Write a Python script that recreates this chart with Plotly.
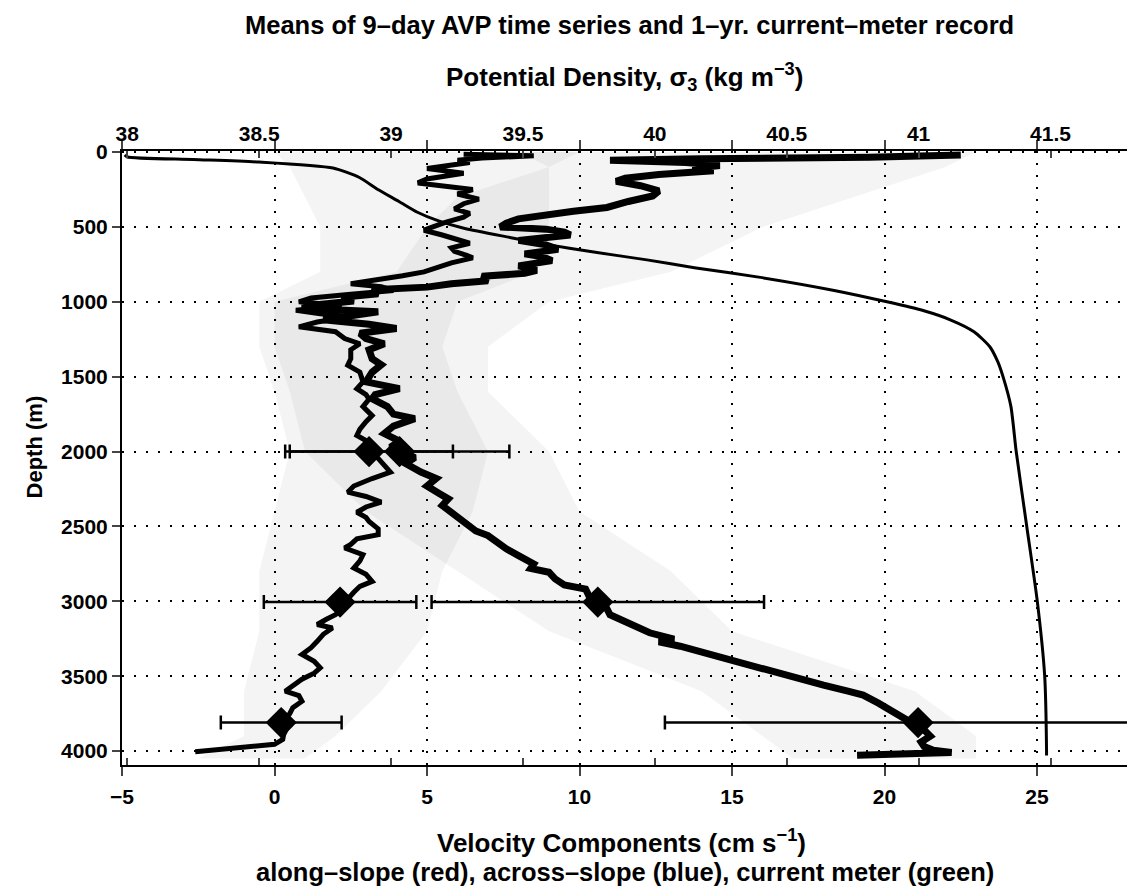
import plotly.graph_objects as go

# ---------------- data ----------------
density_depth = [20, 33, 50, 67, 107, 170, 250, 330, 402, 460, 511, 570, 620, 663, 720, 772, 837, 924, 1000, 1060, 1120,
                 1200, 1300, 1400, 1500, 1700, 2000, 2500, 3000, 3500, 4000, 4030]
density_sigma = [37.99, 38.0, 38.25, 38.5, 38.78, 38.88, 38.95, 39.03, 39.10, 39.18, 39.28, 39.45, 39.60, 39.75, 39.97,
                 40.15, 40.40, 40.68, 40.88, 41.02, 41.12, 41.21, 41.27, 41.30, 41.32, 41.35, 41.37, 41.41, 41.45,
                 41.478, 41.485, 41.485]

along_depth = [20, 35, 45, 55, 70, 90, 110, 125, 150, 175, 196, 225, 260, 293, 330, 370, 395, 413, 446, 475, 500, 515,
               535, 554, 575, 590, 620, 650, 680, 700, 725, 760, 790, 810, 830, 860, 880, 902, 920, 946, 970, 995, 1020,
               1043, 1067, 1090, 1120, 1150, 1178, 1210, 1245, 1280, 1320, 1380, 1420, 1470, 1535, 1580, 1620, 1647,
               1700, 1750, 1780, 1830, 1880, 1930, 1970, 2000, 2040, 2080, 2137, 2180, 2230, 2280, 2316, 2360, 2427,
               2480, 2530, 2561, 2610, 2650, 2695, 2750, 2780, 2806, 2850, 2890, 2918, 2960, 3000, 3050, 3090, 3120,
               3170, 3210, 3252, 3270, 3300, 3340, 3384, 3420, 3460, 3494, 3530, 3560, 3600, 3626, 3680, 3730, 3780,
               3820, 3860, 3900, 3940, 3970, 3995, 4010, 4020, 4028]
along_vel = [22.5, 19.5, 14.0, 11.0, 13.5, 14.6, 13.7, 14.4, 12.6, 11.5, 11.2, 12.0, 12.6, 12.4, 11.6, 10.9, 9.8, 9.2,
             8.0, 7.6, 7.4, 8.9, 9.5, 9.7, 8.3, 8.0, 8.9, 9.3, 8.2, 8.8, 9.1, 8.0, 8.6, 8.2, 6.8, 7.0, 5.8, 5.0, 3.2, 3.4,
             2.2, 2.6, 1.4, 0.9, 3.4, 2.4, 1.6, 3.1, 4.0, 2.8, 3.0, 3.6, 3.1, 3.2, 3.5, 3.2, 3.0, 4.1, 3.3, 3.2, 3.7,
             3.9, 4.6, 3.9, 3.6, 4.1, 3.8, 4.2, 4.6, 4.3, 4.8, 5.3, 5.0, 5.4, 5.7, 5.5, 5.9, 6.3, 6.6, 7.0, 7.3, 7.6,
             8.0, 8.5, 8.4, 9.0, 9.2, 9.5, 10.2, 10.3, 10.6, 10.9, 11.0, 11.3, 11.9, 12.3, 13.1, 12.6, 13.3, 14.0, 14.8,
             15.4, 16.2, 16.8, 17.4, 18.0, 18.8, 19.3, 19.8, 20.2, 20.6, 20.9, 21.3, 21.5, 21.2, 21.3, 21.6, 22.2, 20.8,
             19.1]

across_depth = [15, 25, 40, 55, 70, 90, 110, 141, 160, 180, 206, 230, 250, 280, 315, 345, 380, 410, 435, 470, 500, 522,
                554, 580, 609, 640, 663, 690, 707, 740, 761, 800, 826, 860, 880, 900, 924, 950, 975, 1000, 1025, 1056,
                1080, 1100, 1135, 1167, 1200, 1245, 1280, 1320, 1380, 1424, 1470, 1535, 1580, 1620, 1650, 1700, 1760,
                1800, 1850, 1892, 1950, 2000, 2050, 2100, 2137, 2180, 2230, 2271, 2300, 2338, 2370, 2405, 2440, 2467,
                2516, 2555, 2583, 2620, 2644, 2689, 2730, 2778, 2820, 2867, 2900, 2940, 2985, 3040, 3089, 3120, 3155,
                3178, 3220, 3267, 3310, 3355, 3400, 3444, 3480, 3520, 3560, 3600, 3630, 3667, 3710, 3750, 3800, 3850,
                3890, 3922, 3955, 3975, 3990, 4004]
across_vel = [6.2, 8.5, 6.8, 6.0, 6.4, 5.8, 5.0, 6.2, 5.6, 5.0, 4.7, 5.6, 6.5, 6.0, 6.7, 6.2, 5.9, 6.4, 6.2, 5.6, 5.2,
              4.9, 5.5, 6.0, 6.4, 5.8, 5.9, 6.3, 6.5, 5.8, 5.5, 4.9, 4.2, 3.2, 2.5, 3.5, 3.9, 2.5, 1.2, 0.8, 2.2, 0.7,
              1.5, 2.5, 1.4, 0.8, 2.0, 2.3, 2.8, 2.5, 2.5, 2.4, 2.8, 2.9, 2.7, 3.0, 3.1, 2.9, 3.2, 3.0, 2.8, 2.7, 3.2,
              3.2, 3.4, 3.6, 3.8, 3.2, 2.6, 2.4, 3.0, 3.5, 3.0, 2.7, 3.0, 3.1, 3.4, 3.4, 2.7, 2.5, 2.3, 2.9, 2.8, 2.6,
              3.0, 3.2, 2.8, 2.6, 2.4, 2.3, 2.0, 1.7, 1.4, 1.9, 1.6, 1.4, 1.2, 0.9, 1.3, 1.5, 1.3, 0.9, 0.6, 0.35, 0.8,
              0.9, 0.6, 0.5, 0.3, 0.4, 0.3, 0.27, 0.0, -1.0, -1.7, -2.6]

# spread of the individual profiles (stippled envelope)
spread_depth = [0, 100, 300, 500, 800, 1000, 1300, 1600, 2000, 2400, 2800, 3200, 3600, 3900, 4050]
across_lo = [0.0, 0.5, 1.0, 1.5, 1.5, -0.5, -0.5, 0.0, 0.5, 0.0, -0.5, -0.5, -1.0, -1.0, -2.5]
across_hi = [10.0, 9.0, 9.0, 9.0, 8.5, 6.0, 5.5, 6.0, 7.0, 6.5, 5.5, 5.0, 3.5, 2.0, 1.0]
along_lo = [8.0, 9.0, 6.0, 5.0, 4.0, 0.0, 0.0, 0.5, 1.0, 3.0, 6.0, 9.0, 14.0, 16.0, 17.0]
along_hi = [23.0, 22.0, 19.0, 16.0, 13.0, 9.0, 7.0, 7.0, 9.0, 10.0, 13.0, 15.0, 21.0, 23.0, 23.0]

# current-meter means and standard deviations
cm_depth = [2000, 3005, 3810]
cm_along = [4.1, 10.6, 21.1]
cm_along_sd = [3.6, 5.45, 8.3]
cm_across = [3.1, 2.15, 0.22]
cm_across_sd = [2.75, 2.5, 1.98]

vel_ticks = [-5, 0, 5, 10, 15, 20, 25]
sigma_ticks = [38, 38.5, 39, 39.5, 40, 40.5, 41, 41.5]
depth_ticks = [0, 500, 1000, 1500, 2000, 2500, 3000, 3500, 4000]

FONT = "Liberation Sans, Arial, sans-serif"

fig = go.Figure()

# stippled envelopes of the individual profiles
for lo, hi in ((across_lo, across_hi), (along_lo, along_hi)):
    fig.add_trace(go.Scatter(x=lo + hi[::-1], y=spread_depth + spread_depth[::-1], fill="toself",
                             fillcolor="rgba(0,0,0,0.045)", line=dict(width=0), hoverinfo="skip",
                             showlegend=False))

# density profile on top axis
fig.add_trace(go.Scatter(x=density_sigma, y=density_depth, xaxis="x2", mode="lines",
                         line=dict(color="black", width=3, shape="spline", smoothing=0.6), showlegend=False))

# mean velocity profiles
fig.add_trace(go.Scatter(x=across_vel, y=across_depth, mode="lines",
                         line=dict(color="black", width=5), showlegend=False))
fig.add_trace(go.Scatter(x=along_vel, y=along_depth, mode="lines",
                         line=dict(color="black", width=7), showlegend=False))

# current meter means with error bars
for vals, sd in ((cm_across, cm_across_sd), (cm_along, cm_along_sd)):
    fig.add_trace(go.Scatter(x=vals, y=cm_depth, mode="markers",
                             marker=dict(symbol="diamond", size=24, color="black"),
                             error_x=dict(type="data", array=sd, visible=True, color="black",
                                          thickness=2.5, width=7),
                             showlegend=False))

tickfont = dict(size=21, family=FONT, weight="bold")

fig.update_layout(
    width=1127, height=888,
    margin=dict(l=122, r=0, t=151, b=123),
    paper_bgcolor="white", plot_bgcolor="white",
    font=dict(family=FONT, size=20, color="black"),
    xaxis=dict(range=[-5, 27.95], tickvals=vel_ticks, ticks="outside", ticklen=9, tickwidth=2,
               showline=True, linewidth=2, linecolor="black", mirror="ticks",
               showgrid=True, gridcolor="black", gridwidth=2, griddash="2px,10px",
               zeroline=False, tickfont=tickfont, ticklabelstandoff=3),
    xaxis2=dict(range=[37.98, 41.79], overlaying="x", side="top", tickvals=sigma_ticks,
                ticktext=[f"{t:g}" for t in sigma_ticks], ticks="inside", ticklen=7, tickwidth=2,
                showline=True, linewidth=2, linecolor="black", mirror="ticks",
                showgrid=False, zeroline=False, tickfont=tickfont),
    yaxis=dict(range=[4093, -7], tickvals=depth_ticks, ticks="outside", ticklen=8, tickwidth=2,
               showline=True, linewidth=2, linecolor="black",
               showgrid=True, gridcolor="black", gridwidth=2, griddash="2px,10px",
               zeroline=False, tickfont=tickfont),
    annotations=[
        dict(text="Means of 9\u2013day AVP time series and 1\u2013yr. current\u2013meter record",
             xref="paper", yref="paper", x=0.505, y=1.2052, yanchor="middle", showarrow=False,
             font=dict(size=25.5, family=FONT, weight="bold")),
        dict(text="Potential Density, \u03c3<sub>3</sub> (kg m<sup>\u22123</sup>)",
             xref="paper", yref="paper", x=0.5, y=1.12, yanchor="middle", showarrow=False,
             font=dict(size=26, family=FONT, weight="bold")),
        dict(text="Velocity Components (cm s<sup>\u22121</sup>)",
             xref="paper", yref="paper", x=0.4975, y=-0.125, yanchor="middle", showarrow=False,
             font=dict(size=26, family=FONT, weight="bold")),
        dict(text="along\u2013slope (red), across\u2013slope (blue), current meter (green)",
             xref="paper", yref="paper", x=0.5, y=-0.1745, yanchor="middle", showarrow=False,
             font=dict(size=25.5, family=FONT, weight="bold")),
        dict(text="Depth (m)", xref="paper", yref="paper", x=-0.1015, y=0.518, yanchor="middle",
             showarrow=False, textangle=-90, font=dict(size=22, family=FONT, weight="bold")),
    ],
)

fig.write_html("out.html")
